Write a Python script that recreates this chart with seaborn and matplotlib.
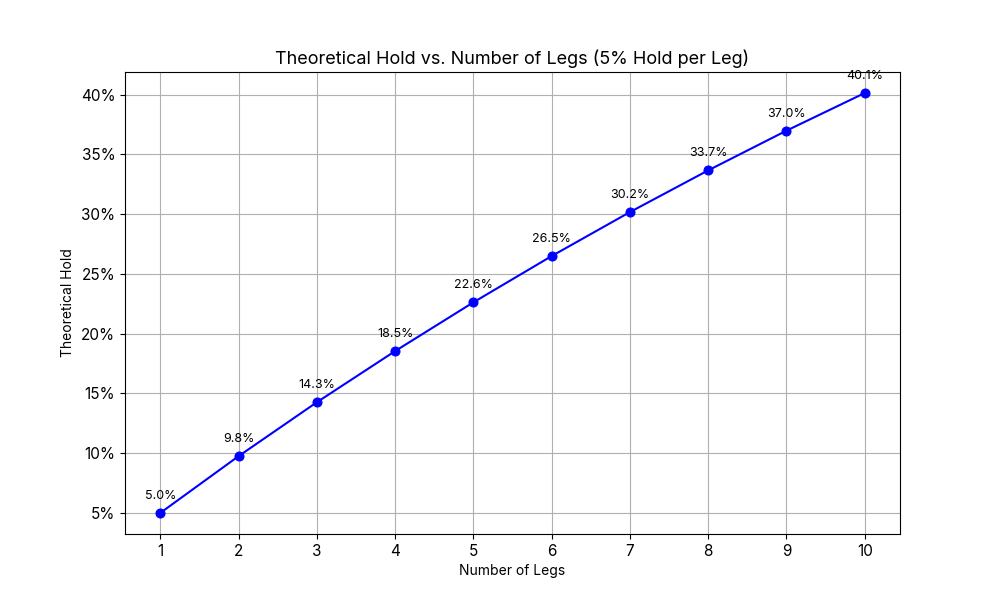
import matplotlib
matplotlib.use("Agg")
import matplotlib.pyplot as plt
import matplotlib.ticker as mtick
import seaborn as sns
import pandas as pd

legs = [1, 2, 3, 4, 5, 6, 7, 8, 9, 10]
hold = [0.0500, 0.0975, 0.1426, 0.1854, 0.2262, 0.2649, 0.3017, 0.3366, 0.3698, 0.4013]

sns.set_style("ticks")
plt.rcParams['font.family'] = ['Inter', 'DejaVu Sans']
plt.rcParams.update({"text.color": "black", "axes.labelcolor": "black",
                     "xtick.color": "black", "ytick.color": "black",
                     "axes.edgecolor": "black"})

df = pd.DataFrame({"legs": legs, "hold": hold})
fig, ax = plt.subplots(figsize=(10, 6), dpi=100)
sns.lineplot(data=df, x="legs", y="hold", ax=ax, color="blue", marker="o",
             markersize=6.5, markeredgecolor="blue", linewidth=1.5)
for x, y in zip(legs, hold):
    ax.annotate(f"{y*100:.1f}%", (x, y), textcoords="offset points", xytext=(0, 10),
                ha="center", fontsize=9, color="black")
ax.set_xticks(legs)
ax.yaxis.set_major_formatter(mtick.PercentFormatter(1.0, decimals=0))
ax.set_title("Theoretical Hold vs. Number of Legs (5% Hold per Leg)", fontsize=13, color="black")
ax.set_xlabel("Number of Legs", fontsize=10)
ax.set_ylabel("Theoretical Hold", fontsize=10)
ax.tick_params(labelsize=11, colors="black")
ax.grid(True, color="#b0b0b0", linewidth=0.8)
for s in ax.spines.values():
    s.set_visible(True)
    s.set_color("black")
fig.savefig("out.png")
